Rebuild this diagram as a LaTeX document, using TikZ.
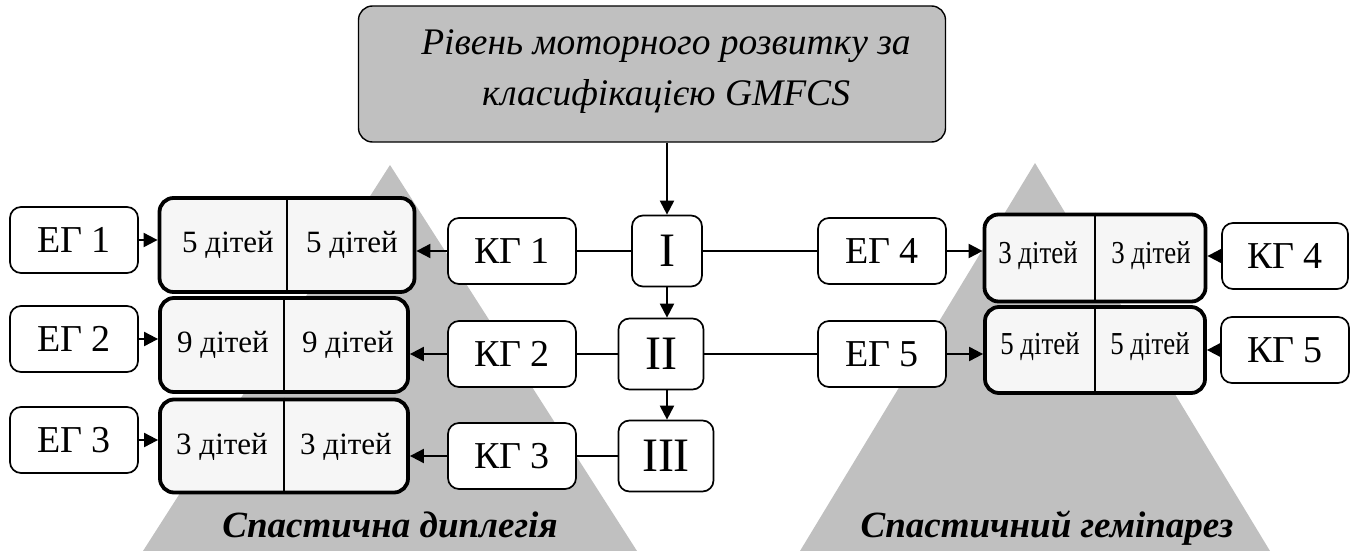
\documentclass[tikz,border=0pt]{standalone}
\usepackage{fontspec}
\setmainfont{Liberation Serif}
\newfontfamily\condensed[FakeStretch=0.84]{Liberation Serif}
\usetikzlibrary{arrows.meta}
\definecolor{pyramid}{HTML}{C0C0C0}
\definecolor{cellfill}{HTML}{F6F6F6}

\begin{document}
\begin{tikzpicture}[x=1pt, y=-1pt,
  group/.style={draw, rounded corners=11pt, line width=1.7pt, fill=white, minimum width=128pt, minimum height=66pt, inner sep=0pt, font=\fontsize{38}{42}\selectfont},
  level/.style={group, minimum width=70pt, minimum height=71pt, font=\fontsize{48}{52}\selectfont},
  pair/.style={draw, rounded corners=14pt, line width=3.8pt, fill=cellfill, inner sep=0pt},
  count/.style={inner sep=0pt, font=\fontsize{31}{34}\selectfont},
  arr/.style={line width=2pt, -{Triangle[length=14pt, width=14pt]}},
  link/.style={line width=2pt}]

  \useasboundingbox (0,0) rectangle (1358,551);

  % pyramids
  \fill[pyramid] (143,551) -- (390,165) -- (637,551) -- cycle;
  \fill[pyramid] (800,551) -- (1035,163) -- (1270,551) -- cycle;
  \node[anchor=base, font=\fontsize{37}{40}\selectfont\bfseries\itshape] (dipl) at (390,537) {Спастична диплегія};
  \node[anchor=base, font=\fontsize{37}{40}\selectfont\bfseries\itshape] (hemi) at (1047,537) {Спастичний геміпарез};

  % title
  \node[draw, rounded corners=14pt, line width=1.4pt, fill=pyramid, minimum width=587pt, minimum height=136pt] (gmfcs) at (652,74) {};
  \node[align=center, inner sep=0pt, font=\fontsize{37.5}{51}\selectfont\itshape] (gmfcstext) at (666,72) {Рівень моторного розвитку за\\ класифікацією GMFCS};

  % levels
  \node[level] (l1) at (667,251) {I};
  \node[level, minimum width=85pt] (l2) at (661,354) {II};
  \node[level, minimum width=95pt] (l3) at (666,456) {III};

  % groups
  \node[group] (kg1) at (512,251) {КГ 1};
  \node[group] (kg2) at (512,354) {КГ 2};
  \node[group] (kg3) at (512,456) {КГ 3};
  \node[group] (eg1) at (74,240) {ЕГ 1};
  \node[group] (eg2) at (74,339) {ЕГ 2};
  \node[group] (eg3) at (74,440) {ЕГ 3};
  \node[group] (eg4) at (882,251) {ЕГ 4};
  \node[group] (eg5) at (882,354) {ЕГ 5};
  \node[group, minimum width=126pt] (kg4) at (1285,256) {КГ 4};
  \node[group] (kg5) at (1285,350) {КГ 5};

  % pairs
  \node[pair, minimum width=255pt, minimum height=94pt] (lb1) at (287,245) {};
  \node[pair, minimum width=248pt, minimum height=94pt] (lb2) at (284,345) {};
  \node[pair, minimum width=248pt, minimum height=93pt] (lb3) at (284,446) {};
  \node[pair, minimum width=221pt, minimum height=87pt] (rb1) at (1095,258) {};
  \node[pair, minimum width=220pt, minimum height=86pt] (rb2) at (1095,350) {};
  \foreach \b in {lb1,lb2,lb3,rb1,rb2}
    \draw[line width=1.2pt] (\b.north) -- (\b.south);

  % counts
  \node[count] (c1a) at (228,245) {5 дітей};
  \node[count] (c1b) at (352,245) {5 дітей};
  \node[count] (c2a) at (223,345) {9 дітей};
  \node[count] (c2b) at (348,345) {9 дітей};
  \node[count] (c3a) at (222,447) {3 дітей};
  \node[count] (c3b) at (346,447) {3 дітей};
  \node[count, font=\fontsize{32}{34}\condensed] (c4a) at (1038,256) {3 дітей};
  \node[count, font=\fontsize{32}{34}\condensed] (c4b) at (1151,256) {3 дітей};
  \node[count, font=\fontsize{32}{34}\condensed] (c5a) at (1040,347) {5 дітей};
  \node[count, font=\fontsize{32}{34}\condensed] (c5b) at (1150,347) {5 дітей};

  % arcs
  \draw[arr] (gmfcs.south -| l1) -- (l1);
  \draw[arr] (l1) -- (l1 |- l2.north);
  \draw[arr] (l1 |- l2.south) -- (l1 |- l3.north);
  \draw[link] (l1) -- (kg1);
  \draw[link] (l1) -- (eg4);
  \draw[link] (l2) -- (kg2);
  \draw[link] (l2) -- (eg5);
  \draw[link] (l3) -- (kg3);
  \draw[arr] (kg1) -- (kg1 -| lb1.east);
  \draw[arr] (kg2) -- (kg2 -| lb2.east);
  \draw[arr] (kg3) -- (kg3 -| lb3.east);
  \draw[arr] (eg1) -- (eg1 -| lb1.west);
  \draw[arr] (eg2) -- (eg2 -| lb2.west);
  \draw[arr] (eg3) -- (eg3 -| lb3.west);
  \draw[arr] (eg4) -- (eg4 -| rb1.west);
  \draw[arr] (eg5) -- (eg5 -| rb2.west);
  \draw[arr] (kg4) -- (kg4 -| rb1.east);
  \draw[arr] (kg5) -- (kg5 -| rb2.east);

\end{tikzpicture}
\end{document}
